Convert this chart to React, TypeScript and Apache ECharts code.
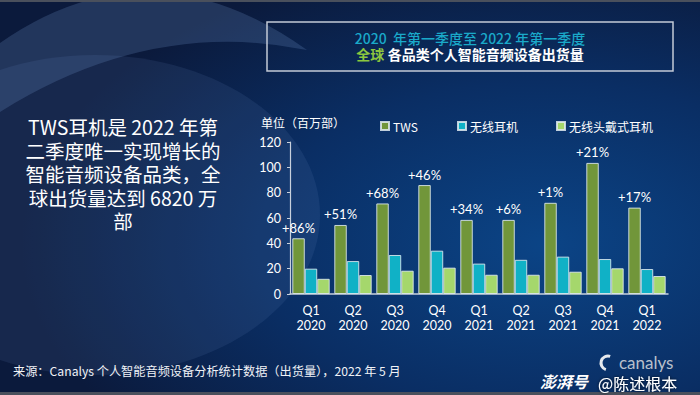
import React, { useEffect, useRef } from "react";
import * as echarts from "echarts";

const categories = ["Q1\n2020", "Q2\n2020", "Q3\n2020", "Q4\n2020", "Q1\n2021", "Q2\n2021", "Q3\n2021", "Q4\n2021", "Q1\n2022"];
const twsValues = [44, 54.5, 71.5, 86, 58.5, 58.5, 72, 103.5, 68.2];
const wirelessValues = [20, 26, 30.8, 34.2, 24, 27, 29.5, 27.6, 19.7];
const headphoneValues = [12, 15, 18.4, 20.8, 15.2, 15.2, 17.6, 20.3, 14.2];
const growthLabels = ["+86%", "+51%", "+68%", "+46%", "+34%", "+6%", "+1%", "+21%", "+17%"];
const seriesNames = ["TWS", "无线耳机", "无线头戴式耳机"];
const yTicks = { min: 0, max: 120, interval: 20 };

const CJK = '"Noto Sans CJK SC", "Noto Sans", sans-serif';
const NUM = 'Lato, "Noto Sans CJK SC", sans-serif';

export default function App() {
  const ref = useRef<HTMLDivElement>(null);
  useEffect(() => {
    if (!ref.current) return;
    const crescent = echarts.graphic.extendPath(
      "M0,43 Q150,-62 307,50 Q150,18 0,112 Z",
      {}
    );
    echarts.graphic.registerShape("crescent", crescent);
    const chart = echarts.init(ref.current, null, { renderer: "svg" });
    const border = "rgba(225,235,240,0.85)";
    const option: any = {
      animation: false,
      graphic: [
        {
          type: "rect",
          z: -10,
          shape: { x: 0, y: 0, width: 700, height: 395 },
          style: {
            fill: {
              type: "radial",
              x: 0.78,
              y: 0.62,
              r: 0.75,
              colorStops: [
                { offset: 0, color: "#0b4486" },
                { offset: 0.55, color: "#0a2e64" },
                { offset: 1, color: "#0b1a3c" },
              ],
            },
          },
        },
        {
          type: "ellipse",
          z: -9,
          shape: { cx: 95, cy: 215, rx: 225, ry: 160 },
          style: { fill: "rgba(110,140,190,0.13)" },
        },
        {
          type: "crescent",
          z: -9,
          x: 0,
          y: 0,
          style: { fill: "rgba(120,155,210,0.22)" },
        },
        { type: "rect", z: -8, shape: { x: 0, y: 0, width: 700, height: 2 }, style: { fill: "#4a505c" } },
        { type: "rect", z: -8, shape: { x: 0, y: 392, width: 700, height: 3 }, style: { fill: "#4a505c" } },
        {
          type: "rect",
          z: -7,
          shape: { x: 267, y: 22, width: 406, height: 49 },
          style: { fill: "none", stroke: "#c4cad6", lineWidth: 1.5 },
        },
        {
          type: "text",
          x: 470,
          y: 46,
          style: {
            text: "{c|2020  年第一季度至 2022 年第一季度}\n{g|全球} {w|各品类个人智能音频设备出货量}",
            align: "center",
            verticalAlign: "middle",
            rich: {
              c: { fill: "#1aa9c9", font: `500 14px ${CJK}`, lineHeight: 15.5, align: "center" },
              g: { fill: "#8cc63f", font: `bold 14px ${CJK}`, lineHeight: 15.5 },
              w: { fill: "#ffffff", font: `bold 14px ${CJK}`, lineHeight: 15.5 },
            },
          },
        },
        {
          type: "text",
          x: 123,
          y: 115,
          style: {
            text: "TWS耳机是 2022 年第\n二季度唯一实现增长的\n智能音频设备品类，全\n球出货量达到 6820 万\n部",
            fill: "#ffffff",
            font: `19.5px ${CJK}`,
            lineHeight: 23.5,
            align: "center",
            verticalAlign: "top",
          },
        },
        {
          type: "text",
          x: 261,
          y: 122,
          style: {
            text: "单位（百万部）",
            fill: "#ffffff",
            font: `12px ${CJK}`,
            verticalAlign: "middle",
          },
        },
        {
          type: "text",
          x: 13,
          y: 371,
          style: {
            text: "来源：Canalys 个人智能音频设备分析统计数据（出货量），2022 年 5 月",
            fill: "#f0f2f6",
            font: `12.2px ${CJK}`,
            verticalAlign: "middle",
          },
        },
        {
          type: "text",
          x: 540,
          y: 381,
          style: {
            text: "澎湃号",
            fill: "#ffffff",
            font: `italic bold 16px ${CJK}`,
            verticalAlign: "middle",
          },
        },
        {
          type: "arc",
          shape: { cx: 608, cy: 363, r: 7, startAngle: Math.PI * 0.6, endAngle: Math.PI * 1.6 },
          style: { stroke: "#e6e9ee", lineWidth: 3, fill: "none" },
        },
        {
          type: "text",
          x: 619,
          y: 362,
          style: {
            text: "canalys",
            fill: "#b9c0cc",
            font: `17px ${NUM}`,
            verticalAlign: "middle",
          },
        },
        {
          type: "text",
          x: 598,
          y: 383,
          style: {
            text: "@陈述根本",
            fill: "#ffffff",
            font: `16px ${CJK}`,
            verticalAlign: "middle",
            textShadowColor: "rgba(0,0,0,0.8)",
            textShadowBlur: 3,
          },
        },
      ],
      legend: seriesNames.map((n, i) => ({
        data: [n],
        left: [375, 452, 551][i],
        top: 115,
        itemWidth: 8,
        itemHeight: 8,
        itemGap: 0,
        icon: "rect",
        textStyle: { color: "#ffffff", fontSize: 12, fontFamily: CJK, padding: [0, 0, 0, -1] },
      })),
      grid: { left: 290, right: 32, top: 142, bottom: 101, containLabel: false },
      xAxis: {
        type: "category",
        data: categories,
        axisLine: { lineStyle: { color: "#c8d0dc", width: 1.5 } },
        axisTick: { show: false },
        axisLabel: { color: "#ffffff", fontSize: 12.5, lineHeight: 15, margin: 9, fontFamily: NUM, interval: 0 },
      },
      yAxis: {
        type: "value",
        min: yTicks.min,
        max: yTicks.max,
        interval: yTicks.interval,
        axisLine: { show: true, lineStyle: { color: "#c8d0dc", width: 1.2 } },
        axisTick: { show: true, length: 3, lineStyle: { color: "#c8d0dc" } },
        splitLine: { show: false },
        axisLabel: { color: "#ffffff", fontSize: 12.5, margin: 9, fontFamily: NUM },
      },
      series: [
        {
          name: seriesNames[0],
          type: "bar",
          data: twsValues,
          barGap: "0%",
          barCategoryGap: "11%",
          itemStyle: { color: "#71963a", borderColor: border, borderWidth: 1 },
          label: {
            show: true,
            position: "top",
            distance: 4,
            color: "#ffffff",
            fontSize: 13,
            fontFamily: NUM,
            formatter: (p: any) => growthLabels[p.dataIndex],
          },
        },
        {
          name: seriesNames[1],
          type: "bar",
          data: wirelessValues,
          barGap: "0%",
          barCategoryGap: "11%",
          itemStyle: { color: "#10b1c6", borderColor: border, borderWidth: 1 },
        },
        {
          name: seriesNames[2],
          type: "bar",
          data: headphoneValues,
          barGap: "0%",
          barCategoryGap: "11%",
          itemStyle: { color: "#a5d76c", borderColor: border, borderWidth: 1 },
        },
      ],
    };
    chart.setOption(option);
    return () => chart.dispose();
  }, []);
  return (
    <div
      ref={ref}
      style={{ position: "absolute", left: 0, top: 0, width: 700, height: 395 }}
    />
  );
}
